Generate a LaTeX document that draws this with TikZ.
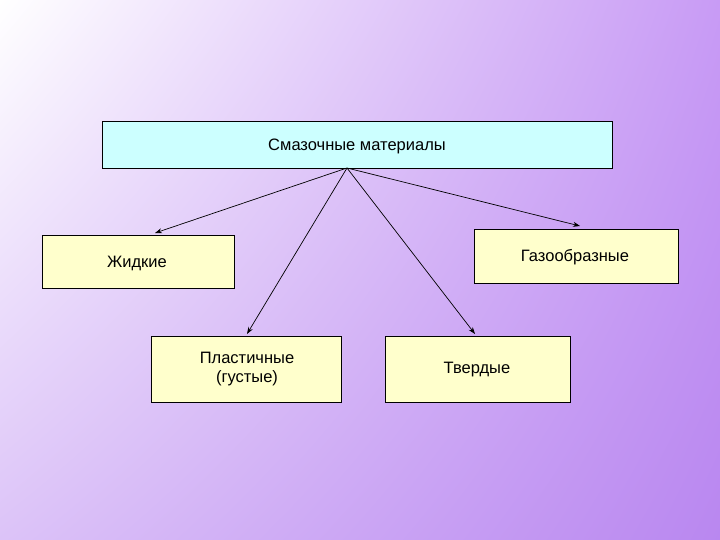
\documentclass[tikz,border=0pt]{standalone}
\usepackage{fontspec}
\setmainfont{Liberation Sans}
\usetikzlibrary{arrows.meta,shadings}
\definecolor{bgur}{RGB}{200,155,245}
\definecolor{bgll}{RGB}{220,195,248}
\definecolor{bglr}{RGB}{185,135,240}
\definecolor{cyanbox}{RGB}{204,255,255}
\definecolor{yelbox}{RGB}{255,255,204}
\begin{document}
\begin{tikzpicture}[x=1pt,y=-1pt,
  box/.style={draw=black,line width=0.6pt,fill=#1},
  lbl/.style={font=\fontsize{16.5}{19}\selectfont,align=center},
  arr/.style={-{Stealth[length=7pt,width=5pt]},line width=0.7pt}]
\useasboundingbox (0,0) rectangle (720,540);
\shade[upper left=white,upper right=bgur,lower left=bgll,lower right=bglr] (0,0) rectangle (720,540);
\path[box=cyanbox] (102,121) rectangle (612,168);
\node[lbl] (top) at (357,146) {Смазочные материалы};
\path[box=yelbox] (42,235) rectangle (234,288);
\node[lbl] (liq) at (137,263) {Жидкие};
\path[box=yelbox] (474,229) rectangle (678,283);
\node[lbl] (gas) at (575,257) {Газообразные};
\path[box=yelbox] (151,336) rectangle (341,402);
\node[lbl] (pl) at (247,369) {Пластичные\\ (густые)};
\path[box=yelbox] (385,336) rectangle (570,402);
\node[lbl] (sol) at (477,370) {Твердые};
\coordinate (o) at (347,168);
\coordinate (a1) at (155,233);
\coordinate (a2) at (580,226);
\coordinate (a3) at (247,334);
\coordinate (a4) at (475,334);
\draw[arr] (o) -- (a1);
\draw[arr] (o) -- (a2);
\draw[arr] (o) -- (a3);
\draw[arr] (o) -- (a4);
\end{tikzpicture}
\end{document}
